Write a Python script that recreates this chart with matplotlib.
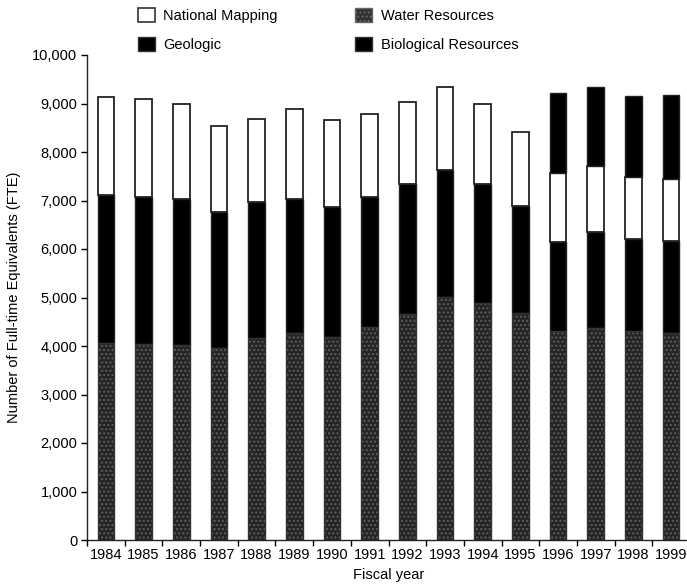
import matplotlib
matplotlib.use("Agg")
import matplotlib.pyplot as plt
import numpy as np

plt.rcParams['font.family'] = ['Liberation Sans', 'DejaVu Sans']
plt.rcParams['hatch.linewidth'] = 1.0

years = ['1984', '1985', '1986', '1987', '1988', '1989', '1990', '1991',
         '1992', '1993', '1994', '1995', '1996', '1997', '1998', '1999']
water = [4060, 4040, 4020, 3950, 4170, 4270, 4190, 4400,
         4670, 5010, 4890, 4690, 4300, 4380, 4300, 4270]
geologic = [3050, 3030, 3010, 2810, 2800, 2760, 2680, 2670,
            2680, 2620, 2450, 2200, 1840, 1980, 1910, 1900]
national_mapping = [2030, 2020, 1960, 1780, 1710, 1850, 1790, 1710,
                    1690, 1720, 1650, 1520, 1430, 1360, 1280, 1270]
biological = [0, 0, 0, 0, 0, 0, 0, 0,
              0, 0, 0, 0, 1640, 1610, 1660, 1740]
yticks = [0, 1000, 2000, 3000, 4000, 5000, 6000, 7000, 8000, 9000, 10000]

W, H = 687, 587
fig = plt.figure(figsize=(W / 100, H / 100), dpi=100)
ax = fig.add_axes([87 / W, 47 / H, 603 / W, 485 / H])

x = np.arange(len(years))
bw = 0.44
water_a = np.array(water)
geo_a = np.array(geologic)
nm_a = np.array(national_mapping)
bio_a = np.array(biological)

# Water resources: speckled dark grey
ax.bar(x, water_a, bw, color='#242424', edgecolor='#5e5e5e', linewidth=0,
       hatch='....', zorder=2)
ax.bar(x, water_a, bw, fill=False, edgecolor='#333333', linewidth=1.0, zorder=3)
ax.bar(x, geo_a, bw, bottom=water_a, color='black', edgecolor='#222222',
       linewidth=1.0, zorder=2)
ax.bar(x, nm_a, bw, bottom=water_a + geo_a, color='white', edgecolor='#222222',
       linewidth=1.3, zorder=2)
mask = bio_a > 0
ax.bar(x[mask], bio_a[mask], bw, bottom=(water_a + geo_a + nm_a)[mask],
       color='black', edgecolor='#222222', linewidth=1.0, zorder=2)

ax.set_xlim(-0.5, len(years) - 0.5)
ax.set_ylim(0, 10000)
ax.set_yticks(yticks)
ax.set_yticklabels([f"{v:,}" for v in yticks])
ax.set_xticks(x)
ax.set_xticklabels(years)
ax.set_xticks(np.arange(-0.5, len(years), 1.0), minor=True)
ax.tick_params(axis='x', which='major', length=0, pad=6, labelsize=10.5)
ax.tick_params(axis='x', which='minor', length=4, width=1, direction='out')
ax.tick_params(axis='y', length=4, width=1, direction='out', labelsize=10.5, pad=3)

for s in ['top', 'right']:
    ax.spines[s].set_visible(False)
for s in ['left', 'bottom']:
    ax.spines[s].set_linewidth(1.0)
    ax.spines[s].set_color('#222222')

ax.set_ylabel('Number of Full-time Equivalents (FTE)', fontsize=10.5, labelpad=8)
ax.set_xlabel('Fiscal year', fontsize=10.5, labelpad=4)

from matplotlib.patches import Patch
handles = [
    Patch(facecolor='white', edgecolor='#333333', linewidth=1.2),
    Patch(facecolor='black', edgecolor='#333333', linewidth=1.0),
    Patch(facecolor='#303030', edgecolor='#666666', hatch='....', linewidth=1.0),
    Patch(facecolor='black', edgecolor='#333333', linewidth=1.0),
]
labels = ['National Mapping', 'Geologic', 'Water Resources', 'Biological Resources']
fig.legend(handles, labels, ncol=2, frameon=False, fontsize=10.5,
           loc='upper left', bbox_to_anchor=(132 / W, 1 - 2 / H),
           handlelength=1.15, handleheight=1.1, handletextpad=0.6,
           columnspacing=5.3, labelspacing=0.95, borderaxespad=0)

fig.savefig('out.png', dpi=100)
